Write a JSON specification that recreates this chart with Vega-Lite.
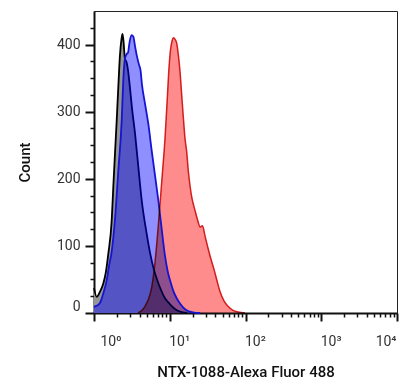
{
  "$schema": "https://vega.github.io/schema/vega-lite/v6.json",
  "width": 303,
  "height": 302,
  "autosize": {"type": "none"},
  "padding": {"left": 94, "top": 11, "right": 13, "bottom": 76},
  "background": "white",
  "config": {
    "view": {"stroke": "#222222", "strokeWidth": 1},
    "font": "Roboto",
    "axis": {
      "zindex": 1,
      "domainColor": "#111111",
      "domainWidth": 2,
      "tickColor": "#111111",
      "grid": false,
      "labelFont": "Roboto",
      "labelFontSize": 14,
      "labelColor": "#333333",
      "titleFont": "Roboto",
      "titleFontSize": 15,
      "titleFontWeight": 500,
      "titleColor": "#111111"
    }
  },
  "datasets": {
    "black": [
      {"v": 1.0, "c": 37}, {"v": 1.085, "c": 24}, {"v": 1.2, "c": 32}, {"v": 1.327, "c": 44},
      {"v": 1.44, "c": 62}, {"v": 1.544, "c": 88}, {"v": 1.713, "c": 138}, {"v": 1.798, "c": 188},
      {"v": 1.893, "c": 238}, {"v": 1.994, "c": 287}, {"v": 2.094, "c": 337}, {"v": 2.204, "c": 385},
      {"v": 2.307, "c": 408}, {"v": 2.378, "c": 416}, {"v": 2.452, "c": 405}, {"v": 2.567, "c": 378},
      {"v": 2.685, "c": 374}, {"v": 2.811, "c": 362}, {"v": 2.987, "c": 335}, {"v": 3.176, "c": 305},
      {"v": 3.477, "c": 268}, {"v": 3.845, "c": 218}, {"v": 4.263, "c": 168}, {"v": 4.963, "c": 118},
      {"v": 5.487, "c": 90}, {"v": 6.066, "c": 68}, {"v": 6.786, "c": 50}, {"v": 7.434, "c": 38},
      {"v": 8.656, "c": 22}, {"v": 10.08, "c": 13}, {"v": 11.73, "c": 6}, {"v": 13.66, "c": 2},
      {"v": 16.89, "c": 0}
    ],
    "blue": [
      {"v": 1.0, "c": 9}, {"v": 1.095, "c": 11}, {"v": 1.2, "c": 15}, {"v": 1.315, "c": 28},
      {"v": 1.472, "c": 49}, {"v": 1.578, "c": 70}, {"v": 1.713, "c": 92}, {"v": 1.893, "c": 140},
      {"v": 2.094, "c": 212}, {"v": 2.321, "c": 287}, {"v": 2.436, "c": 347}, {"v": 2.567, "c": 380},
      {"v": 2.702, "c": 386}, {"v": 2.811, "c": 388}, {"v": 2.942, "c": 403}, {"v": 3.126, "c": 414},
      {"v": 3.302, "c": 412}, {"v": 3.477, "c": 398}, {"v": 3.697, "c": 382}, {"v": 3.928, "c": 370},
      {"v": 4.111, "c": 362}, {"v": 4.302, "c": 340}, {"v": 4.712, "c": 312}, {"v": 5.211, "c": 282},
      {"v": 5.777, "c": 242}, {"v": 6.388, "c": 205}, {"v": 7.062, "c": 168}, {"v": 7.83, "c": 125},
      {"v": 8.656, "c": 85}, {"v": 9.483, "c": 60}, {"v": 10.08, "c": 49}, {"v": 11.14, "c": 33},
      {"v": 12.35, "c": 22}, {"v": 13.66, "c": 14}, {"v": 15.1, "c": 8}, {"v": 17.42, "c": 3},
      {"v": 20.28, "c": 1}, {"v": 25.07, "c": 0}
    ],
    "red": [
      {"v": 3.81, "c": 0}, {"v": 4.302, "c": 4}, {"v": 4.712, "c": 10}, {"v": 5.211, "c": 20},
      {"v": 5.777, "c": 38}, {"v": 6.388, "c": 75}, {"v": 7.062, "c": 130}, {"v": 7.83, "c": 195},
      {"v": 8.656, "c": 260}, {"v": 9.284, "c": 320}, {"v": 9.774, "c": 365}, {"v": 10.23, "c": 392},
      {"v": 10.71, "c": 405}, {"v": 11.21, "c": 410}, {"v": 11.73, "c": 408}, {"v": 12.35, "c": 402},
      {"v": 12.97, "c": 385}, {"v": 13.66, "c": 360}, {"v": 14.38, "c": 325}, {"v": 15.1, "c": 292},
      {"v": 15.9, "c": 260}, {"v": 16.74, "c": 240}, {"v": 17.57, "c": 212}, {"v": 18.51, "c": 190},
      {"v": 19.49, "c": 173}, {"v": 21.54, "c": 153}, {"v": 23.82, "c": 135}, {"v": 25.07, "c": 128},
      {"v": 27.06, "c": 130}, {"v": 29.19, "c": 115}, {"v": 32.28, "c": 95}, {"v": 35.04, "c": 80},
      {"v": 38.39, "c": 65}, {"v": 42.06, "c": 48}, {"v": 46.06, "c": 32}, {"v": 52.03, "c": 18},
      {"v": 58.75, "c": 10}, {"v": 68.39, "c": 4}, {"v": 79.62, "c": 1.5}, {"v": 98.49, "c": 0}
    ]
  },
  "layer": [
    {
      "data": {"name": "black"},
      "mark": {"type": "area", "color": "#969696", "opacity": 1, "interpolate": "monotone"},
      "encoding": {
        "x": {
          "field": "v", "type": "quantitative",
          "scale": {"type": "log", "domain": [1, 10000], "nice": false},
          "axis": {
            "orient": "bottom",
            "title": "NTX-1088-Alexa Fluor 488",
            "titleX": 151.5, "titleY": 63, "titleBaseline": "alphabetic", "titleAnchor": "middle",
            "values": [1, 10, 100, 1000, 10000],
            "tickSize": 8, "tickWidth": 2,
            "labelBaseline": "alphabetic", "labelPadding": 24,
            "labelFlush": false,
            "labelAlign": {"condition": {"test": "datum.value >= 10000", "value": "right"}, "value": "left"},
            "labelOffset": {"condition": {"test": "datum.value <= 1", "value": 6}, "value": -1},
            "labelExpr": "datum.value == 1 ? '10⁰' : datum.value == 10 ? '10¹' : datum.value == 100 ? '10²' : datum.value == 1000 ? '10³' : '10⁴'"
          }
        },
        "y": {
          "field": "c", "type": "quantitative",
          "scale": {"domain": [0, 450], "nice": false, "zero": true},
          "axis": {
            "orient": "left",
            "title": "Count",
            "titleX": -70, "titleY": 151, "titleBaseline": "middle", "titleAngle": -90, "titleAnchor": "middle",
            "values": [0, 100, 200, 300, 400],
            "tickSize": 9, "tickWidth": 2,
            "labelPadding": 5, "labelFlush": true
          }
        }
      }
    },
    {
      "data": {"name": "black"},
      "mark": {"type": "line", "color": "#000000", "strokeWidth": 1.8, "interpolate": "monotone"},
      "encoding": {
        "x": {
          "field": "v", "type": "quantitative",
          "scale": {"type": "log", "domain": [1, 10000], "nice": false},
          "axis": {
            "orient": "bottom",
            "title": null, "labels": false, "domain": false,
            "values": [2, 3, 4, 5, 6, 7, 8, 9, 20, 30, 40, 50, 60, 70, 80, 90, 200, 300, 400, 500, 600, 700, 800, 900, 2000, 3000, 4000, 5000, 6000, 7000, 8000, 9000],
            "tickSize": 4, "tickWidth": 1.5
          }
        },
        "y": {
          "field": "c", "type": "quantitative",
          "scale": {"domain": [0, 450], "nice": false},
          "axis": {
            "orient": "left",
            "title": null, "labels": false, "domain": false,
            "values": [25, 50, 75, 125, 150, 175, 225, 250, 275, 325, 350, 375, 425],
            "tickSize": 4, "tickWidth": 1.5
          }
        }
      }
    },
    {
      "data": {"name": "blue"},
      "mark": {"type": "area", "color": "#0000ff", "opacity": 0.44, "interpolate": "monotone"},
      "encoding": {
        "x": {"field": "v", "type": "quantitative", "scale": {"type": "log", "domain": [1, 10000], "nice": false}, "axis": null},
        "y": {"field": "c", "type": "quantitative", "scale": {"domain": [0, 450], "nice": false}, "axis": null}
      }
    },
    {
      "data": {"name": "red"},
      "mark": {"type": "area", "color": "#ff8c8c", "opacity": 1, "blend": "multiply", "interpolate": "monotone"},
      "encoding": {
        "x": {"field": "v", "type": "quantitative", "scale": {"type": "log", "domain": [1, 10000], "nice": false}, "axis": null},
        "y": {"field": "c", "type": "quantitative", "scale": {"domain": [0, 450], "nice": false}, "axis": null}
      }
    },
    {
      "data": {"name": "blue"},
      "mark": {"type": "line", "color": "#1414d2", "strokeWidth": 1.8, "interpolate": "monotone"},
      "encoding": {
        "x": {"field": "v", "type": "quantitative", "scale": {"type": "log", "domain": [1, 10000], "nice": false}, "axis": null},
        "y": {"field": "c", "type": "quantitative", "scale": {"domain": [0, 450], "nice": false}, "axis": null}
      }
    },
    {
      "data": {"name": "red"},
      "mark": {"type": "line", "color": "#d42525", "strokeWidth": 1.5, "blend": "multiply", "interpolate": "monotone"},
      "encoding": {
        "x": {"field": "v", "type": "quantitative", "scale": {"type": "log", "domain": [1, 10000], "nice": false}, "axis": null},
        "y": {"field": "c", "type": "quantitative", "scale": {"domain": [0, 450], "nice": false}, "axis": null}
      }
    }
  ],
  "resolve": {"axis": {"x": "independent", "y": "independent"}}
}
